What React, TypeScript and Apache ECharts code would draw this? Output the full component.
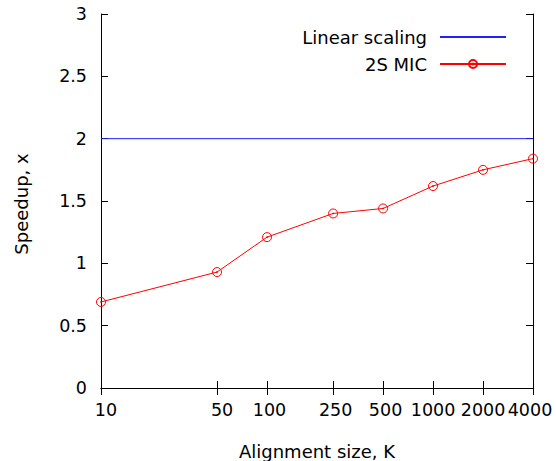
import React, { useEffect, useRef } from "react";
import * as echarts from "echarts";

const sizes = [10, 50, 100, 250, 500, 1000, 2000, 4000];
const speedup2SMIC = [0.69, 0.93, 1.21, 1.40, 1.44, 1.62, 1.75, 1.84];
const linearX = [10, 4000];
const linearY = [2, 2];
const xTicks = [10, 50, 100, 250, 500, 1000, 2000, 4000];

const FONT = "DejaVu Sans";
const FS = 18;
const TFS = 17.5;
const dotCircle =
  "path://M0,-4A4,4 0 1,1 0,4A4,4 0 1,1 0,-4ZM0,-0.5A0.5,0.5 0 1,1 0,0.5A0.5,0.5 0 1,1 0,-0.5Z";

function labelStyleKey(v: number): string {
  if (v < 60) return "r5";
  if (v < 600) return "r2";
  if (v > 3000) return "l3";
  return "n";
}

export default function App() {
  const ref = useRef<HTMLDivElement>(null);
  useEffect(() => {
    if (!ref.current) return;
    const chart = echarts.init(ref.current, null, { renderer: "svg" });
    const xAxisBase = {
      type: "log" as const,
      logBase: 10,
      min: 10,
      max: 4000,
      axisLine: { show: true, lineStyle: { color: "#000", width: 1 } },
      axisTick: { show: true, inside: true, length: 7, customValues: xTicks, lineStyle: { color: "#000" } },
      splitLine: { show: false },
      minorTick: { show: false },
    };
    const yAxisBase = {
      type: "value" as const,
      min: 0,
      max: 3,
      interval: 0.5,
      axisLine: { show: true, lineStyle: { color: "#000", width: 1 } },
      axisTick: { show: true, inside: true, length: 7, lineStyle: { color: "#000" } },
      splitLine: { show: false },
    };
    const richBase = { fontSize: TFS, fontFamily: FONT, color: "#000" };
    chart.setOption({
      animation: false,
      textStyle: { fontFamily: FONT },
      grid: {
        left: 101,
        right: 23,
        top: 14,
        bottom: 73,
        containLabel: false,
        outerBoundsMode: "none",
      },
      xAxis: [
        {
          ...xAxisBase,
          position: "bottom",
          axisLabel: {
            show: true,
            customValues: xTicks,
            margin: 13,
            color: "#000",
            fontSize: TFS,
            fontFamily: FONT,
            formatter: (v: number) => `{${labelStyleKey(v)}|${Math.round(v)}}`,
            rich: {
              r5: { ...richBase, padding: [0, 0, 0, 10] },
              r2: { ...richBase, padding: [0, 0, 0, 5] },
              n: { ...richBase },
              l3: { ...richBase, padding: [0, 6, 0, 0] },
            },
          },
        },
        { ...xAxisBase, position: "top", axisLabel: { show: false } },
      ],
      yAxis: [
        {
          ...yAxisBase,
          position: "left",
          axisLabel: { show: true, margin: 14, color: "#000", fontSize: TFS, fontFamily: FONT },
        },
        { ...yAxisBase, position: "right", axisLabel: { show: false } },
      ],
      legend: {
        orient: "vertical",
        right: 44,
        top: 23,
        align: "right",
        itemWidth: 66,
        itemHeight: 10,
        itemGap: 9,
        textStyle: { fontSize: FS, lineHeight: 16, fontFamily: FONT, color: "#000", padding: [0, 8, 0, 0] },
        data: ["Linear scaling", "2S MIC"],
      },
      graphic: [
        {
          type: "text",
          x: 317,
          y: 451,
          style: {
            text: "Alignment size, K",
            fontSize: FS,
            fontFamily: FONT,
            fill: "#000",
            align: "center",
            verticalAlign: "middle",
          },
        },
        {
          type: "text",
          x: 21,
          y: 204,
          rotation: Math.PI / 2,
          style: {
            text: "Speedup, x",
            fontSize: FS,
            fontFamily: FONT,
            fill: "#000",
            align: "center",
            verticalAlign: "middle",
          },
        },
      ],
      series: [
        {
          name: "Linear scaling",
          type: "line",
          xAxisIndex: 0,
          yAxisIndex: 0,
          data: linearX.map((x, i) => [x, linearY[i]]),
          showSymbol: false,
          symbol: "none",
          lineStyle: { color: "#2020ff", width: 1 },
          itemStyle: { color: "rgba(0,0,0,0)", borderWidth: 0 },
        },
        {
          name: "2S MIC",
          type: "line",
          xAxisIndex: 0,
          yAxisIndex: 0,
          data: sizes.map((x, i) => [x, speedup2SMIC[i]]),
          symbol: dotCircle,
          symbolSize: 9,
          lineStyle: { color: "#ff0000", width: 1 },
          itemStyle: { color: "rgba(255,255,255,0)", borderColor: "#ff0000", borderWidth: 1 },
        },
      ],
    });
    return () => chart.dispose();
  }, []);
  return (
    <div
      ref={ref}
      style={{ position: "fixed", left: 0, top: 0, width: 556, height: 461, background: "#fff" }}
    />
  );
}
